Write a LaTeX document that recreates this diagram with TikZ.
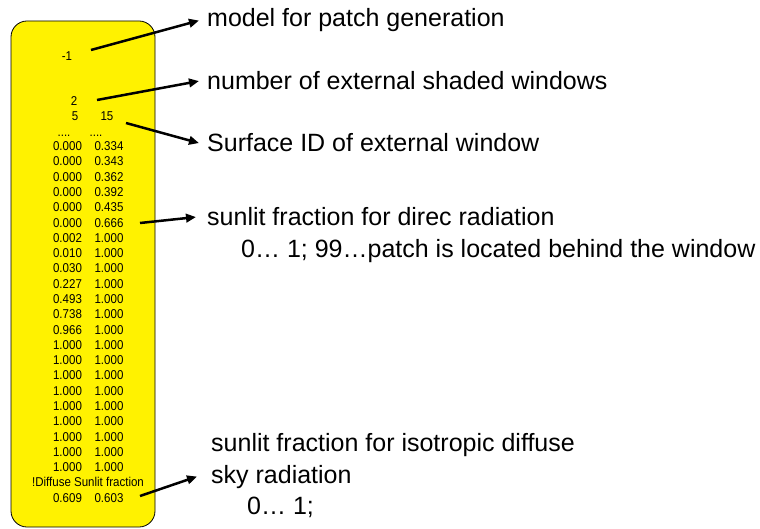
\documentclass[tikz,border=0pt]{standalone}
\usepackage{fontspec}
\setmainfont{Liberation Sans}
\newfontfamily\cellfont[FakeStretch=0.9]{Liberation Sans}
\usetikzlibrary{arrows.meta}
\begin{document}
\begin{tikzpicture}[x=1pt,y=-1pt,
  databox/.style={draw=black, line width=0.8pt, fill=yellow, rounded corners=16pt},
  cell/.style={anchor=base, inner sep=0pt, font=\cellfont\fontsize{12.8}{13}\selectfont},
  lab/.style={anchor=base west, inner sep=0pt, font=\fontsize{25}{30}\selectfont},
  pointer/.style={line width=2.5pt, -{Triangle[length=10pt,width=8.5pt]}}]
\useasboundingbox (0,0) rectangle (760,529);
\draw[databox] (11,21) rectangle (155,527);
% header values
\node[cell] (v1) at (67,61) {-1};
\node[cell] (v2) at (74,106) {2};
\node[cell] (v3a) at (75,121) {5};
\node[cell] (v3b) at (107,121) {15};
\node[cell] (d1) at (64,137) {....};
\node[cell] (d2) at (96,137) {....};
% rows
\foreach \a/\b [count=\i from 0] in {0.000/0.334,0.000/0.343,0.000/0.362,0.000/0.392,0.000/0.435,0.000/0.666,0.002/1.000,0.010/1.000,0.030/1.000,0.227/1.000,0.493/1.000,0.738/1.000,0.966/1.000,1.000/1.000,1.000/1.000,1.000/1.000,1.000/1.000,1.000/1.000,1.000/1.000,1.000/1.000,1.000/1.000,1.000/1.000}{
  \node[cell] (ra\i) at (67.5,{150.6+15.29*\i}) {\a};
  \node[cell] (rb\i) at (109,{150.6+15.29*\i}) {\b};
}
\node[cell] (dh) at (88,486.8) {!Diffuse Sunlit fraction};
\node[cell] (fa) at (67.5,502.3) {0.609};
\node[cell] (fb) at (109,502.3) {0.603};
% labels
\node[lab] (l1) at (207,27) {model for patch generation};
\node[lab] (l2) at (207,90) {number of external shaded windows};
\node[lab] (l3) at (207,152) {Surface ID of external window};
\node[lab] (l4) at (207,226) {sunlit fraction for direc radiation};
\node[lab] (l4b) at (241,258) {0… 1; 99…patch is located behind the window};
\node[lab] (l5a) at (211,451) {sunlit fraction for isotropic diffuse};
\node[lab] (l5) at (211,483) {sky radiation};
\node[lab] (l5c) at (247,514) {0… 1;};
% arrow starts
\coordinate (s1) at (91,50);
\coordinate (s2) at (97,100);
\coordinate (s3) at (126,123);
\coordinate (s4) at (140,223);
\coordinate (s5) at (140,496);
\draw[pointer] (s1) -- ([xshift=-8pt]l1.west);
\draw[pointer] (s2) -- ([xshift=-8pt]l2.west);
\draw[pointer] (s3) -- ([xshift=-8pt]l3.west);
\draw[pointer] (s4) -- ([xshift=-11pt]l4.west);
\draw[pointer] (s5) -- ([xshift=-14pt]l5.west);
\end{tikzpicture}
\end{document}
